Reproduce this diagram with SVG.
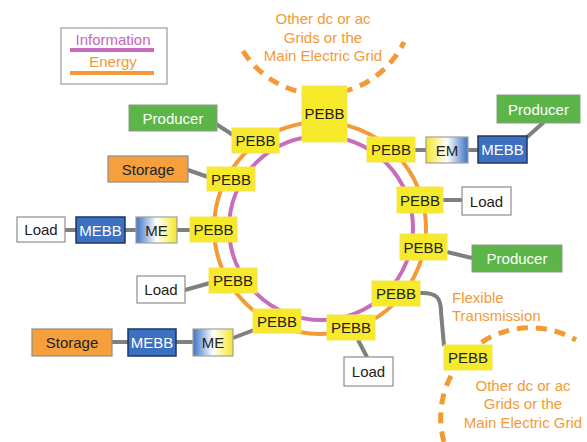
<svg xmlns="http://www.w3.org/2000/svg" width="587" height="442" viewBox="0 0 587 442">
<defs>
<linearGradient id="gEM" x1="0" y1="0" x2="1" y2="0">
<stop offset="0" stop-color="#f6e62a"/><stop offset="0.5" stop-color="#ffffff"/><stop offset="1" stop-color="#3d73c4"/>
</linearGradient>
<linearGradient id="gME" x1="0" y1="0" x2="1" y2="0">
<stop offset="0" stop-color="#3d73c4"/><stop offset="0.5" stop-color="#ffffff"/><stop offset="1" stop-color="#f6e62a"/>
</linearGradient>
<style>
text{font-family:"Liberation Sans",Arial,sans-serif;font-size:15px;text-anchor:middle}
.pebb rect{fill:#f7ea2b;stroke:#f3e35a;stroke-width:1}
.pebb text{fill:#222}
.prod rect{fill:#5cb548;stroke:#8a9a88;stroke-width:1}
.prod text{fill:#fff}
.stor rect{fill:#f5a03d;stroke:#8c8c8c;stroke-width:1.2}
.stor text{fill:#222}
.load rect{fill:#fff;stroke:#8c8c8c;stroke-width:1.2}
.load text{fill:#222}
.mebb rect{fill:#3c70c2;stroke:#1f3560;stroke-width:1.5}
.mebb text{fill:#fff}
.em rect{stroke:#a0a0a0;stroke-width:1.2}
.em text{fill:#222}
.conn{stroke:#7f7f7f;stroke-width:4;fill:none}
.dash{stroke:#f39a36;stroke-width:5;fill:none;stroke-dasharray:11 8}
.otxt{fill:#f39a36}
</style>
</defs>
<rect width="587" height="442" fill="#fff"/>

<g id="legend">
<rect x="61" y="28" width="106" height="56" fill="#fff" stroke="#9a9a9a" stroke-width="1.2"/>
<text x="113" y="45" fill="#c468b8">Information</text>
<line x1="70" y1="50" x2="154" y2="50" stroke="#c76dbd" stroke-width="4"/>
<text x="113" y="67" fill="#f39a36">Energy</text>
<line x1="70" y1="73" x2="154" y2="73" stroke="#f39a36" stroke-width="4"/>
</g>

<g id="grids">
<path class="dash" d="M 243 51 A 92 92 0 0 0 404 42"/>
<path class="dash" d="M 444 442 A 90 90 0 0 1 576 340"/>
<g class="otxt">
<text x="323" y="24">Other dc or ac</text>
<text x="323" y="43">Grids or the</text>
<text x="323" y="61">Main Electric Grid</text>
<text x="523" y="391">Other dc or ac</text>
<text x="523" y="409">Grids or the</text>
<text x="523" y="428">Main Electric Grid</text>
<text x="452" y="303" style="text-anchor:start">Flexible</text>
<text x="452" y="321" style="text-anchor:start">Transmission</text>
</g>
</g>

<g id="ring">
<circle cx="320" cy="228" r="106" fill="none" stroke="#f39a36" stroke-width="4"/>
<circle cx="321" cy="228" r="92" fill="none" stroke="#c76dbd" stroke-width="4"/>
</g>

<g id="connectors">
<line class="conn" x1="216" y1="124" x2="233" y2="135"/>
<line class="conn" x1="188" y1="170" x2="208" y2="177"/>
<line class="conn" x1="65" y1="230" x2="76" y2="230"/>
<line class="conn" x1="125" y1="230" x2="136" y2="230"/>
<line class="conn" x1="177" y1="230" x2="190" y2="230"/>
<line class="conn" x1="185" y1="290" x2="210" y2="283"/>
<line class="conn" x1="112" y1="342" x2="128" y2="342"/>
<line class="conn" x1="176" y1="342" x2="193" y2="342"/>
<line class="conn" x1="233" y1="338" x2="254" y2="330"/>
<line class="conn" x1="358" y1="340" x2="367" y2="357"/>
<path class="conn" d="M 419 293 C 437 292 441 298 441 312 L 444 346"/>
<line class="conn" x1="447" y1="252" x2="472" y2="258"/>
<line class="conn" x1="443" y1="200" x2="462" y2="200"/>
<line class="conn" x1="415" y1="150" x2="426" y2="150"/>
<line class="conn" x1="468" y1="150" x2="478" y2="150"/>
<line class="conn" x1="526" y1="138" x2="544" y2="122"/>
</g>

<g id="pebb-top" class="pebb"><rect x="302" y="86" width="45" height="56"/><text x="324.5" y="119">PEBB</text></g>
<g id="pebb-2" class="pebb"><rect x="232" y="128" width="47" height="25"/><text x="255.5" y="146">PEBB</text></g>
<g id="pebb-3" class="pebb"><rect x="207" y="167" width="48" height="24"/><text x="231" y="184.5">PEBB</text></g>
<g id="pebb-4" class="pebb"><rect x="190" y="217" width="47" height="25"/><text x="213.5" y="235">PEBB</text></g>
<g id="pebb-5" class="pebb"><rect x="209" y="268" width="48" height="25"/><text x="233" y="286">PEBB</text></g>
<g id="pebb-6" class="pebb"><rect x="253" y="309" width="48" height="24"/><text x="277" y="326.5">PEBB</text></g>
<g id="pebb-7" class="pebb"><rect x="327" y="315" width="48" height="25"/><text x="351" y="333">PEBB</text></g>
<g id="pebb-8" class="pebb"><rect x="372" y="281" width="48" height="25"/><text x="396" y="299">PEBB</text></g>
<g id="pebb-9" class="pebb"><rect x="400" y="234" width="47" height="26"/><text x="423.5" y="252.5">PEBB</text></g>
<g id="pebb-10" class="pebb"><rect x="397" y="187" width="46" height="26"/><text x="420" y="205.5">PEBB</text></g>
<g id="pebb-11" class="pebb"><rect x="367" y="137" width="48" height="25"/><text x="391" y="155">PEBB</text></g>
<g id="pebb-ext" class="pebb"><rect x="444" y="345" width="48" height="25"/><text x="468" y="363">PEBB</text></g>

<g id="em" class="em"><rect x="426" y="137" width="42" height="26" fill="url(#gEM)"/><text x="447" y="155.5">EM</text></g>
<g id="mebb-r" class="mebb"><rect x="478" y="136" width="49" height="27"/><text x="502.5" y="155">MEBB</text></g>
<g id="producer-r1" class="prod"><rect x="497" y="95" width="83" height="28"/><text x="538.5" y="114.5">Producer</text></g>
<g id="producer-l" class="prod"><rect x="129" y="105" width="88" height="26"/><text x="173" y="123.5">Producer</text></g>
<g id="storage-1" class="stor"><rect x="108" y="156" width="80" height="26"/><text x="148" y="174.5">Storage</text></g>
<g id="load-l" class="load"><rect x="17" y="217" width="48" height="25"/><text x="41" y="235">Load</text></g>
<g id="mebb-l" class="mebb"><rect x="76" y="217" width="49" height="26"/><text x="100.5" y="235.5">MEBB</text></g>
<g id="me-l" class="em"><rect x="136" y="217" width="41" height="26" fill="url(#gME)"/><text x="156.5" y="235.5">ME</text></g>
<g id="load-2" class="load"><rect x="137" y="276" width="48" height="27"/><text x="161" y="295">Load</text></g>
<g id="storage-2" class="stor"><rect x="32" y="329" width="80" height="27"/><text x="72" y="348">Storage</text></g>
<g id="mebb-b" class="mebb"><rect x="128" y="329" width="48" height="27"/><text x="152" y="348">MEBB</text></g>
<g id="me-b" class="em"><rect x="193" y="329" width="40" height="27" fill="url(#gME)"/><text x="213" y="348">ME</text></g>
<g id="load-b" class="load"><rect x="344" y="357" width="49" height="29"/><text x="368.5" y="377">Load</text></g>
<g id="load-r" class="load"><rect x="462" y="187" width="49" height="28"/><text x="486.5" y="206.5">Load</text></g>
<g id="producer-r2" class="prod"><rect x="472" y="245" width="90" height="27"/><text x="517" y="264">Producer</text></g>
</svg>
